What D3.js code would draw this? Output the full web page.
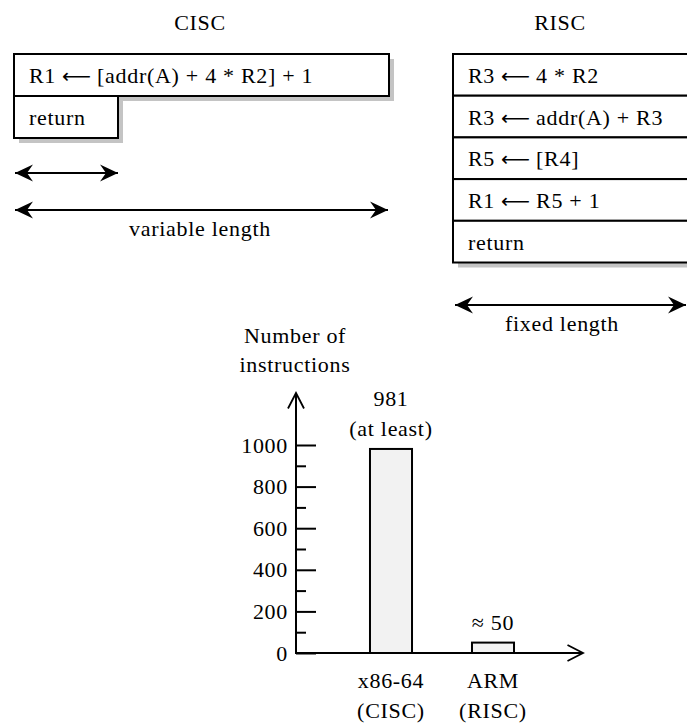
<!DOCTYPE html>
<html>
<head>
<meta charset="utf-8">
<script src="https://cdn.jsdelivr.net/npm/d3@7"></script>
<style>
  body { margin: 0; background: #fff; }
  svg text { font-family: "Liberation Serif", "Times New Roman", serif; font-size: 22px; letter-spacing: 0.7px; fill: #000; }
  svg text.arrow { font-family: "DejaVu Sans", sans-serif; font-size: 20px; letter-spacing: 0; }
</style>
</head>
<body>
<div id="chart"></div>
<script>
// instruction listings
const ciscInstr = ['R1 \u2190 [addr(A) + 4 * R2] + 1', 'return'];
const riscInstr = ['R3 \u2190 4 * R2', 'R3 \u2190 addr(A) + R3', 'R5 \u2190 [R4]', 'R1 \u2190 R5 + 1', 'return'];

// bar chart data
const archs = ['x86-64', 'ARM'];
const archKinds = ['(CISC)', '(RISC)'];
const counts = [981, 50];
const countLabels = [['981', '(at least)'], ['\u2248 50']];
const majorTicks = [0, 200, 400, 600, 800, 1000];
const minorTicks = [100, 300, 500, 700, 900];

const W = 687, H = 726;
const svg = d3.select('#chart').append('svg')
    .attr('width', W)
    .attr('height', H);

const defs = svg.append('defs');
defs.append('marker')
    .attr('id', 'head')
    .attr('viewBox', '-19 -10 20 20')
    .attr('markerUnits', 'userSpaceOnUse')
    .attr('markerWidth', 20).attr('markerHeight', 20)
    .attr('refX', 0).attr('refY', 0)
    .attr('orient', 'auto-start-reverse')
  .append('path')
    .attr('d', 'M0,0 L-18,-8.5 L-12,0 L-18,8.5 Z')
    .attr('fill', '#000');
defs.append('marker')
    .attr('id', 'open')
    .attr('viewBox', '-18 -10 20 20')
    .attr('markerUnits', 'userSpaceOnUse')
    .attr('markerWidth', 20).attr('markerHeight', 20)
    .attr('refX', 0).attr('refY', 0)
    .attr('orient', 'auto')
  .append('path')
    .attr('d', 'M-15.5,-8 L0,0 L-15.5,8')
    .attr('fill', 'none')
    .attr('stroke', '#000')
    .attr('stroke-width', 1.8);

function dblArrow(x1, x2, y) {
  svg.append('line')
      .attr('x1', x1).attr('x2', x2).attr('y1', y).attr('y2', y)
      .attr('stroke', '#000').attr('stroke-width', 2)
      .attr('marker-start', 'url(#head)')
      .attr('marker-end', 'url(#head)');
}

// one instruction line; the assignment arrow is drawn long, like a math \leftarrow
function instrText(g, x, y, str) {
  const parts = str.split(' \u2190 ');
  const lhs = g.append('text').attr('x', x).attr('y', y).text(parts[0]);
  if (parts.length < 2) return;
  const gap = 6, arrowW = 29;
  const ax = x + lhs.node().getComputedTextLength() + gap;
  g.append('text')
      .attr('class', 'arrow')
      .attr('x', ax).attr('y', y)
      .attr('textLength', arrowW)
      .attr('lengthAdjust', 'spacingAndGlyphs')
      .text('\u27f5');
  g.append('text').attr('x', ax + arrowW + gap).attr('y', y).text(parts[1]);
}

// instruction boxes with drop shadow
function drawBoxes(rows) {
  const g = svg.append('g');
  g.selectAll('.shadow')
      .data(rows)
    .join('rect')
      .attr('class', 'shadow')
      .attr('x', d => d.x + 5).attr('y', d => d.y + 5)
      .attr('width', d => d.w).attr('height', d => d.h)
      .attr('fill', '#c4c4c4');
  g.selectAll('.box')
      .data(rows)
    .join('rect')
      .attr('class', 'box')
      .attr('x', d => d.x).attr('y', d => d.y)
      .attr('width', d => d.w).attr('height', d => d.h)
      .attr('fill', '#fff')
      .attr('stroke', '#000')
      .attr('stroke-width', 2);
  rows.forEach(d => instrText(g, d.x + 15, d.y + 29, d.text));
}

// CISC side
svg.append('text').attr('x', 200).attr('y', 30).attr('text-anchor', 'middle').text('CISC');
const ciscWidths = [375, 104];
drawBoxes(ciscInstr.map((t, i) => ({ text: t, x: 14, y: 54 + i * 42, w: ciscWidths[i], h: 42 })));
dblArrow(15, 118, 173);
dblArrow(15, 388, 210);
svg.append('text').attr('x', 200).attr('y', 236).attr('text-anchor', 'middle').text('variable length');

// RISC side
svg.append('text').attr('x', 560).attr('y', 30).attr('text-anchor', 'middle').text('RISC');
const rowH = 41.7;
drawBoxes(riscInstr.map((t, i) => ({ text: t, x: 453, y: 54 + i * rowH, w: 260, h: rowH })));
dblArrow(455, 686, 305);
svg.append('text').attr('x', 562).attr('y', 331).attr('text-anchor', 'middle').text('fixed length');

// bar chart
const x0 = 296, y0 = 653;
const y = d3.scaleLinear().domain([0, 1000]).range([y0, 445]);
const x = d3.scaleBand().domain(archs).range([340, 544]).paddingInner(0.588).paddingOuter(0.294);

const chart = svg.append('g');

chart.append('g')
    .attr('transform', `translate(${x0},0)`)
    .call(d3.axisLeft(y).tickValues(majorTicks).tickSize(-20).tickPadding(8).tickFormat(d3.format('d')))
    .call(g => g.attr('font-family', null).attr('font-size', null))
    .call(g => g.select('.domain').remove())
    .call(g => g.selectAll('line').attr('stroke', '#000').attr('stroke-width', 2))
    .call(g => g.selectAll('text').attr('fill', '#000'));

chart.append('g')
    .attr('transform', `translate(${x0},0)`)
    .call(d3.axisLeft(y).tickValues(minorTicks).tickSize(-10).tickFormat(''))
    .call(g => g.select('.domain').remove())
    .call(g => g.selectAll('line').attr('stroke', '#000').attr('stroke-width', 2));

// axes lines with open arrowheads
chart.append('line')
    .attr('x1', x0).attr('y1', y0 + 1).attr('x2', x0).attr('y2', 393)
    .attr('stroke', '#000').attr('stroke-width', 2)
    .attr('marker-end', 'url(#open)');
chart.append('line')
    .attr('x1', x0 - 1).attr('y1', y0).attr('x2', 583).attr('y2', y0)
    .attr('stroke', '#000').attr('stroke-width', 2)
    .attr('marker-end', 'url(#open)');

chart.append('text').attr('x', 295).attr('y', 343).attr('text-anchor', 'middle').text('Number of');
chart.append('text').attr('x', 295).attr('y', 372).attr('text-anchor', 'middle').text('instructions');

chart.selectAll('.bar')
    .data(counts)
  .join('rect')
    .attr('class', 'bar')
    .attr('x', (d, i) => x(archs[i]))
    .attr('y', d => y(d))
    .attr('width', x.bandwidth())
    .attr('height', d => y0 - y(d))
    .attr('fill', '#f2f2f2')
    .attr('stroke', '#000')
    .attr('stroke-width', 2);

// value labels above bars and category labels below
counts.forEach((v, i) => {
  const lines = countLabels[i];
  const cx = x(archs[i]) + x.bandwidth() / 2;
  lines.forEach((t, j) => {
    chart.append('text')
        .attr('x', cx)
        .attr('y', y(v) - 13 - (lines.length - 1 - j) * 30)
        .attr('text-anchor', 'middle')
        .text(t);
  });
  chart.append('text').attr('x', cx).attr('y', 688).attr('text-anchor', 'middle').text(archs[i]);
  chart.append('text').attr('x', cx).attr('y', 718).attr('text-anchor', 'middle').text(archKinds[i]);
});
</script>
</body>
</html>
